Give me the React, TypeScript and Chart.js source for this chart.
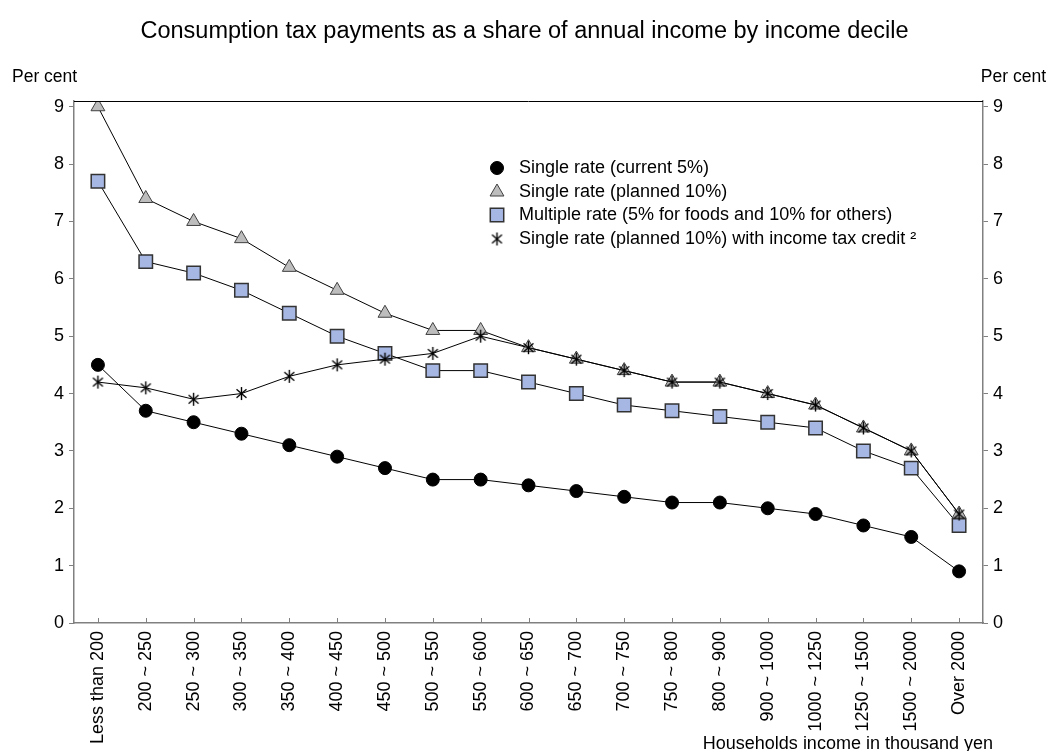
import { useEffect, useRef } from 'react'
import { Chart, registerables } from 'chart.js'
import { drawPoint } from 'chart.js/helpers'

Chart.register(...registerables)

const incomeBands = [
  'Less than 200', '200 ~ 250', '250 ~ 300', '300 ~ 350', '350 ~ 400', '400 ~ 450',
  '450 ~ 500', '500 ~ 550', '550 ~ 600', '600 ~ 650', '650 ~ 700', '700 ~ 750',
  '750 ~ 800', '800 ~ 900', '900 ~ 1000', '1000 ~ 1250', '1250 ~ 1500', '1500 ~ 2000', 'Over 2000',
]
const singleCurrent5 = [4.5, 3.7, 3.5, 3.3, 3.1, 2.9, 2.7, 2.5, 2.5, 2.4, 2.3, 2.2, 2.1, 2.1, 2.0, 1.9, 1.7, 1.5, 0.9]
const singlePlanned10 = [9.0, 7.4, 7.0, 6.7, 6.2, 5.8, 5.4, 5.1, 5.1, 4.8, 4.6, 4.4, 4.2, 4.2, 4.0, 3.8, 3.4, 3.0, 1.9]
const multipleRate = [7.7, 6.3, 6.1, 5.8, 5.4, 5.0, 4.7, 4.4, 4.4, 4.2, 4.0, 3.8, 3.7, 3.6, 3.5, 3.4, 3.0, 2.7, 1.7]
const withTaxCredit = [4.2, 4.1, 3.9, 4.0, 4.3, 4.5, 4.6, 4.7, 5.0, 4.8, 4.6, 4.4, 4.2, 4.2, 4.0, 3.8, 3.4, 3.0, 1.9]
const yTicks = [0, 1, 2, 3, 4, 5, 6, 7, 8, 9]
const yMax = 9.1

const FONT = "'Liberation Sans', Arial, sans-serif"
const AXIS_GREY = '#808080'

// 6-armed asterisk like the original marker
function makeAsterisk(r: number) {
  const c = document.createElement('canvas')
  const s = r * 2 + 2
  c.width = s
  c.height = s
  const ctx = c.getContext('2d')!
  ctx.strokeStyle = '#000'
  ctx.lineWidth = 1.4
  const m = s / 2
  for (const deg of [90, 40, 140]) {
    const a = (deg * Math.PI) / 180
    ctx.beginPath()
    ctx.moveTo(m - Math.cos(a) * r, m - Math.sin(a) * r)
    ctx.lineTo(m + Math.cos(a) * r, m + Math.sin(a) * r)
    ctx.stroke()
  }
  return c
}

const decorPlugin = {
  id: 'decor',
  afterDraw(chart: Chart) {
    const { ctx, chartArea } = chart
    const x = chart.scales.x
    ctx.save()
    ctx.fillStyle = '#000'
    ctx.textBaseline = 'middle'

    ctx.font = `23.5px ${FONT}`
    ctx.textAlign = 'center'
    ctx.fillText('Consumption tax payments as a share of annual income by income decile', chart.width / 2, 32)

    ctx.font = `17.5px ${FONT}`
    ctx.textAlign = 'left'
    ctx.fillText('Per cent', 12, 77)
    ctx.textAlign = 'right'
    ctx.fillText('Per cent', 1046, 77)

    ctx.font = `18px ${FONT}`
    ctx.fillText('Households income in thousand yen', 993, 744)

    // top frame line
    ctx.strokeStyle = '#000'
    ctx.lineWidth = 1
    ctx.beginPath()
    ctx.moveTo(chartArea.left, chartArea.top + 0.5)
    ctx.lineTo(chartArea.right, chartArea.top + 0.5)
    ctx.stroke()

    // inward x ticks
    ctx.strokeStyle = AXIS_GREY
    ctx.beginPath()
    x.ticks.forEach((_t, i) => {
      const px = Math.round(x.getPixelForTick(i)) + 0.5
      ctx.moveTo(px, chartArea.bottom)
      ctx.lineTo(px, chartArea.bottom - 5)
    })
    ctx.stroke()

    // legend
    ctx.font = `18px ${FONT}`
    ctx.textAlign = 'left'
    const rowY = [168, 192, 215, 239]
    chart.data.datasets.forEach((ds: any, i: number) => {
      const y = rowY[i]
      ctx.fillStyle = ds.pointBackgroundColor
      ctx.strokeStyle = ds.pointBorderColor
      ctx.lineWidth = ds.pointBorderWidth
      drawPoint(ctx, { pointStyle: ds.pointStyle, radius: ds.pointRadius, rotation: 0, borderWidth: ds.pointBorderWidth }, 497, y)
      ctx.fillStyle = '#000'
      ctx.fillText(ds.label, 519, y)
    })
    ctx.restore()
  },
}

export default function App() {
  const canvasRef = useRef<HTMLCanvasElement>(null)
  const chartRef = useRef<Chart | null>(null)

  useEffect(() => {
    if (!canvasRef.current) return
    chartRef.current?.destroy()
    const asterisk = makeAsterisk(6.5)

    const base = { borderColor: '#000', borderWidth: 1, tension: 0, fill: false }

    chartRef.current = new Chart(canvasRef.current, {
      type: 'line',
      data: {
        labels: incomeBands,
        datasets: [
          {
            ...base,
            label: 'Single rate (current 5%)',
            data: singleCurrent5,
            pointStyle: 'circle',
            pointRadius: 6.5,
            pointBackgroundColor: '#000',
            pointBorderColor: '#000',
            pointBorderWidth: 1,
            order: 3,
          },
          {
            ...base,
            label: 'Single rate (planned 10%)',
            data: singlePlanned10,
            pointStyle: 'triangle',
            pointRadius: 8,
            pointBackgroundColor: '#bdbdbd',
            pointBorderColor: '#404040',
            pointBorderWidth: 1,
            order: 1,
          },
          {
            ...base,
            label: 'Multiple rate (5% for foods and 10% for others)',
            data: multipleRate,
            pointStyle: 'rect',
            pointRadius: 9.5,
            pointBackgroundColor: '#a7b7e3',
            pointBorderColor: '#333',
            pointBorderWidth: 1.5,
            order: 2,
          },
          {
            ...base,
            label: 'Single rate (planned 10%) with income tax credit ²',
            data: withTaxCredit,
            pointStyle: asterisk,
            pointRadius: 6.5,
            pointBackgroundColor: '#000',
            pointBorderColor: '#000',
            pointBorderWidth: 1,
            order: 0,
          },
        ] as any,
      },
      options: {
        responsive: true,
        maintainAspectRatio: false,
        animation: false,
        layout: { padding: { top: 101, left: 0, right: 0, bottom: 0 } },
        plugins: { legend: { display: false }, title: { display: false }, tooltip: { enabled: false } },
        scales: {
          x: {
            type: 'category',
            offset: true,
            grid: { display: false, drawTicks: false },
            border: { color: AXIS_GREY, width: 1.5 },
            ticks: {
              color: '#000',
              font: { family: FONT, size: 18 },
              minRotation: 90,
              maxRotation: 90,
              autoSkip: false,
              padding: 8,
            },
            afterFit: (s: any) => { s.height = 128 },
          },
          y: {
            position: 'left',
            min: 0,
            max: yMax,
            grid: { drawOnChartArea: false, tickLength: 5, color: AXIS_GREY },
            border: { color: AXIS_GREY, width: 1.5 },
            ticks: { color: '#000', font: { family: FONT, size: 18 }, padding: 5 },
            afterBuildTicks: (s: any) => { s.ticks = yTicks.map(v => ({ value: v })) },
            afterFit: (s: any) => { s.width = 74 },
          },
          y2: {
            position: 'right',
            min: 0,
            max: yMax,
            grid: { drawOnChartArea: false, tickLength: 5, color: AXIS_GREY },
            border: { color: AXIS_GREY, width: 1.5 },
            ticks: { color: '#000', font: { family: FONT, size: 18 }, padding: 5 },
            afterBuildTicks: (s: any) => { s.ticks = yTicks.map(v => ({ value: v })) },
            afterFit: (s: any) => { s.width = 66 },
          },
        },
      },
      plugins: [decorPlugin as any],
    })

    return () => chartRef.current?.destroy()
  }, [])

  return (
    <div style={{ position: 'fixed', left: 0, top: 0, width: 1049, height: 751, background: '#fff' }}>
      <canvas ref={canvasRef} />
    </div>
  )
}
